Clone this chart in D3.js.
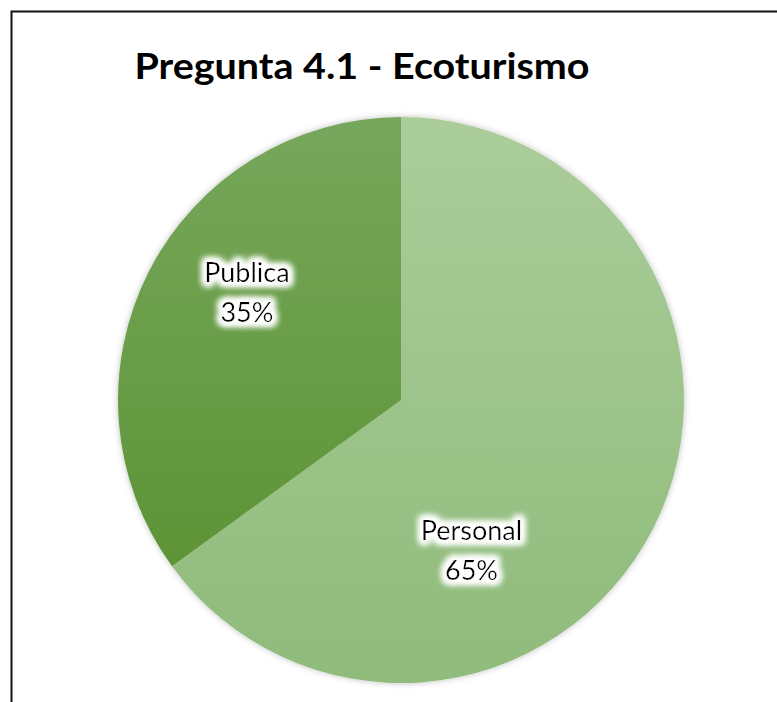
<!DOCTYPE html>
<html><head><meta charset="utf-8">
<script src="https://cdn.jsdelivr.net/npm/d3@7"></script>
<style>body{margin:0;background:#fff}svg{display:block}</style>
</head><body>
<script>
const categories = ["Personal", "Publica"];
const values = [65, 35];
const percentLabels = ["65%", "35%"];
const title = "Pregunta 4.1 - Ecoturismo";

const W = 777, H = 702;
const svg = d3.select("body").append("svg").attr("width", W).attr("height", H);
const defs = svg.append("defs");

const grads = [["#abcd9a", "#8fbb7b"], ["#77a75c", "#568f2c"]];
grads.forEach((g, i) => {
  const lg = defs.append("linearGradient").attr("id", "g" + i)
    .attr("gradientUnits", "userSpaceOnUse")
    .attr("x1", 0).attr("y1", -283).attr("x2", 0).attr("y2", 283);
  lg.append("stop").attr("offset", 0).attr("stop-color", g[0]);
  lg.append("stop").attr("offset", 1).attr("stop-color", g[1]);
});
const sh = defs.append("filter").attr("id", "shadow").attr("x", "-10%").attr("y", "-10%").attr("width", "120%").attr("height", "120%");
sh.append("feDropShadow").attr("dx", 0).attr("dy", 0).attr("stdDeviation", 3).attr("flood-color", "#000").attr("flood-opacity", 0.25);
const glow = defs.append("filter").attr("id", "glow").attr("x", "-20%").attr("y", "-30%").attr("width", "140%").attr("height", "160%");
glow.append("feMorphology").attr("in", "SourceAlpha").attr("operator", "dilate").attr("radius", 3).attr("result", "d");
glow.append("feGaussianBlur").attr("in", "d").attr("stdDeviation", 3.5).attr("result", "b");
glow.append("feFlood").attr("flood-color", "#fff").attr("result", "w");
glow.append("feComposite").attr("in", "w").attr("in2", "b").attr("operator", "in").attr("result", "g");
const gm = glow.append("feMerge");
gm.append("feMergeNode").attr("in", "g");
gm.append("feMergeNode").attr("in", "g");
gm.append("feMergeNode").attr("in", "g");
gm.append("feMergeNode").attr("in", "SourceGraphic");

// frame (only top and left visible)
svg.append("path").attr("d", `M11.5,${H} L11.5,11.5 L${W},11.5`)
  .attr("fill", "none").attr("stroke", "#111").attr("stroke-width", 2);

const t = svg.append("text").attr("x", 362).attr("y", 79).attr("text-anchor", "middle")
  .attr("font-family", "Lato, 'Open Sans', sans-serif").attr("font-weight", "bold")
  .attr("font-size", 36).attr("fill", "#000").text(title);
t.attr("textLength", 455).attr("lengthAdjust", "spacingAndGlyphs");

const cx = 401, cy = 400, r = 283;
const g = svg.append("g").attr("transform", `translate(${cx},${cy})`);
const pie = d3.pie().sort(null).value(d => d)(values);
const arc = d3.arc().innerRadius(0).outerRadius(r);
g.append("g").attr("filter", "url(#shadow)").selectAll("path").data(pie).join("path")
  .attr("d", arc).attr("fill", (d, i) => `url(#g${i})`);

// label placement (layout: angle shift from slice midpoint, radius fraction)
const labelLayout = [{shift: 0.66, rf: 0.585}, {shift: 0.14, rf: 0.665}];
const lab = g.selectAll("g.lab").data(pie).join("g").attr("class", "lab")
  .attr("transform", (d, i) => {
    const a = (d.startAngle + d.endAngle) / 2 + labelLayout[i].shift;
    const rr = r * labelLayout[i].rf;
    return `translate(${rr * Math.sin(a)},${-rr * Math.cos(a)})`;
  })
  .attr("filter", "url(#glow)");
lab.append("text").attr("text-anchor", "middle").attr("y", -10)
  .attr("font-family", "Lato, 'Open Sans', sans-serif").attr("font-size", 27).attr("fill", "#000")
  .text((d, i) => categories[i]);
lab.append("text").attr("text-anchor", "middle").attr("y", 30)
  .attr("font-family", "Lato, 'Open Sans', sans-serif").attr("font-size", 27).attr("fill", "#000")
  .text((d, i) => percentLabels[i]);
</script>
</body></html>
